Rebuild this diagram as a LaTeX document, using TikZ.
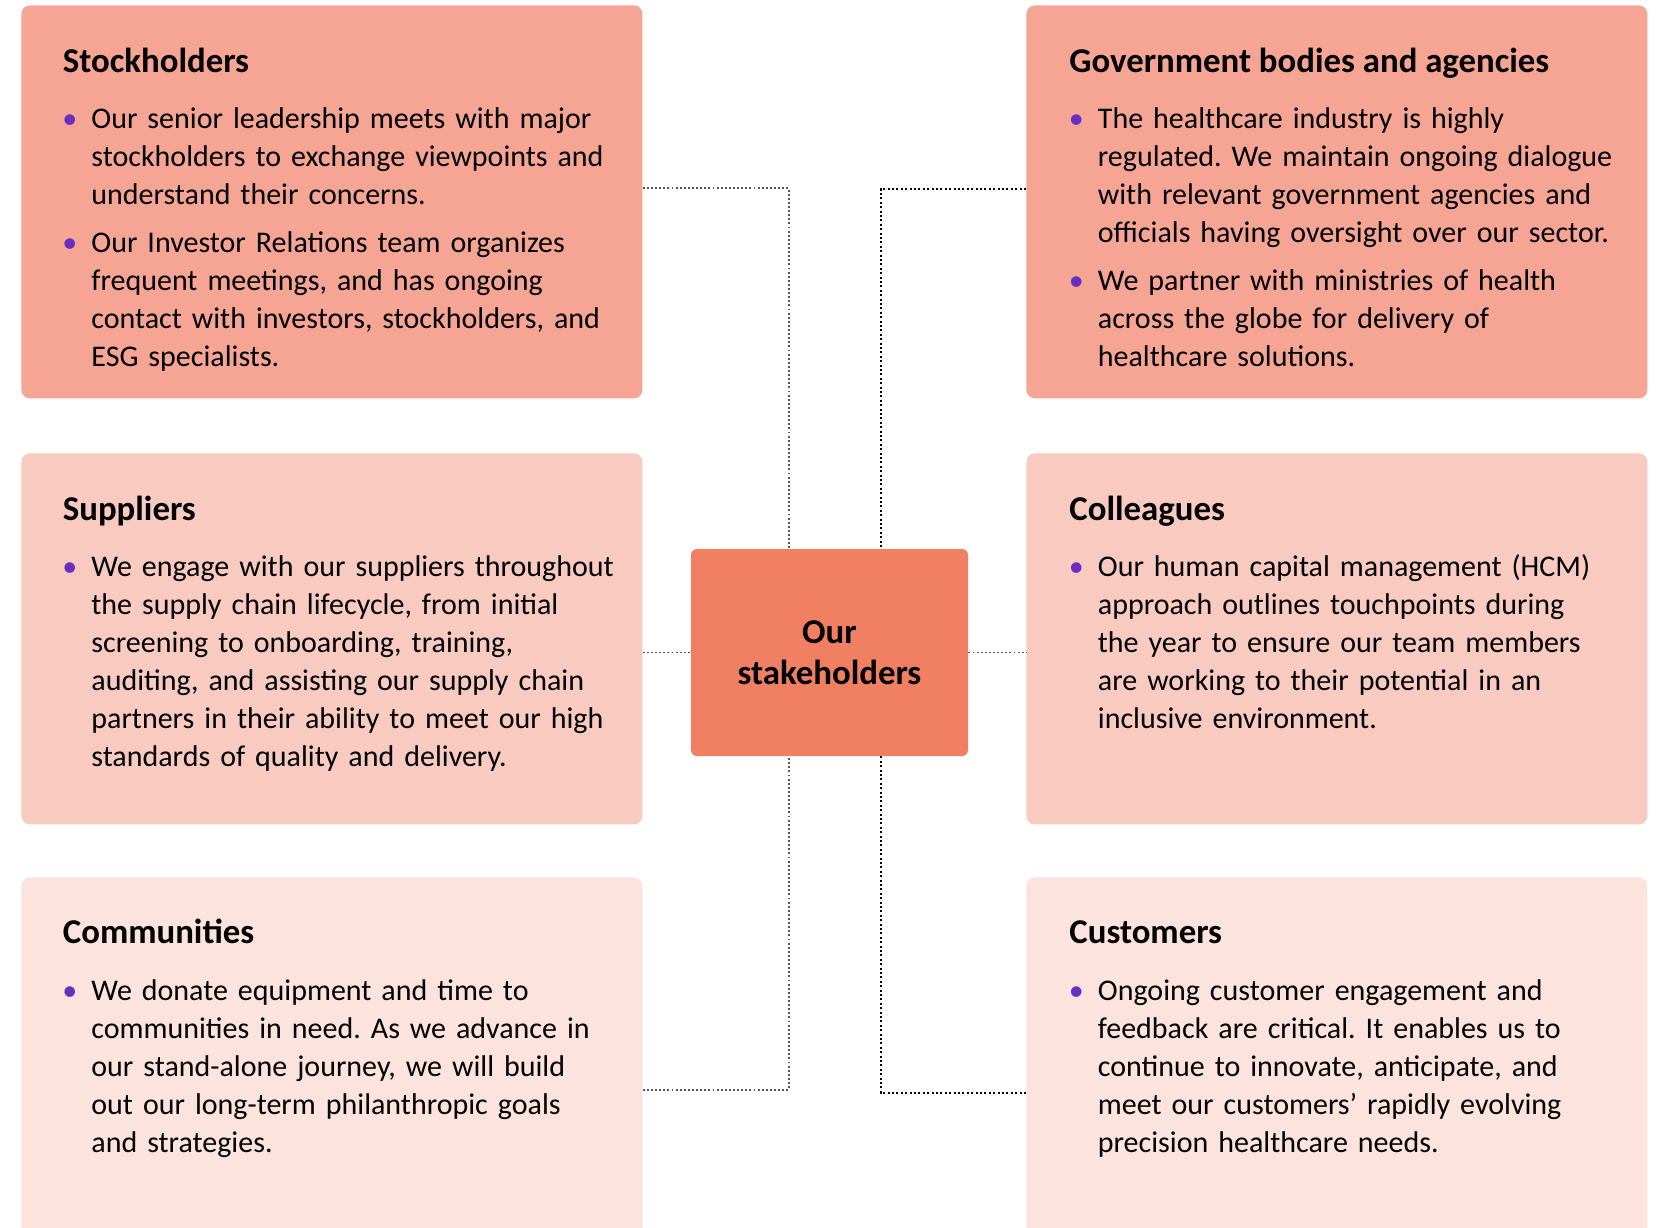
\documentclass[tikz,border=0pt]{standalone}
\usepackage{fontspec}
\setmainfont{Carlito}
\usepackage{xcolor}
\usepackage{tikz}
\usetikzlibrary{calc}
\usetikzlibrary{positioning}

\definecolor{darksalmon}{HTML}{F6A494}
\definecolor{midsalmon}{HTML}{F9CAC0}
\definecolor{palesalmon}{HTML}{FCE3DE}
\definecolor{hubsalmon}{HTML}{F17F62}
\definecolor{bulletpurple}{HTML}{6A2EC0}
\definecolor{dotgrey}{HTML}{555555}

\frenchspacing
% one bullet point, hanging indent, lines broken by hand with \newline
\newcommand{\bitem}[1]{\par\hangindent=11.5pt\hangafter=1\noindent\makebox[11.5pt][l]{\hspace{-3pt}\textcolor{bulletpurple}{\textbullet}}#1\par}
\newcommand{\itemgap}{\vspace{5pt}}

\begin{document}
\begin{tikzpicture}[x=0.5pt,y=-0.5pt,
                    box/.style={rectangle,rounded corners=4.25pt,inner sep=0pt,minimum width=310.5pt,anchor=north west},
                    upper box/.style={box,fill=darksalmon,minimum height=196.5pt},
                    middle box/.style={box,fill=midsalmon,minimum height=185.5pt},
                    lower box/.style={box,fill=palesalmon,minimum height=186.5pt},
                    hub box/.style={rectangle,rounded corners=3pt,fill=hubsalmon,minimum width=138.5pt,minimum height=103.5pt,
                                    align=center,font=\fontsize{17.4pt}{20.7pt}\selectfont\bfseries},
                    title text/.style={inner sep=0pt,anchor=base west,font=\fontsize{17.4pt}{20pt}\selectfont\bfseries},
                    body text/.style={inner sep=0pt,anchor=base west,text width=290pt,font=\fontsize{15pt}{19pt}\selectfont},
                    link/.style={draw=dotgrey,line width=0.95pt,dash pattern=on 0.95pt off 1.1pt},
                    dark link/.style={draw=black,line width=1.05pt,dash pattern=on 1.05pt off 1.15pt}]

\clip (0,0) rectangle (1661,1227);

% boxes
\node[upper box]  (stock) at (21,5) {};
\node[upper box]  (gov)   at (1026,5) {};
\node[middle box] (supp)  at (21,453) {};
\node[middle box] (coll)  at (1026,453) {};
\node[lower box]  (comm)  at (21,877) {};
\node[lower box]  (cust)  at (1026,877) {};

\node[hub box] (hub) at (829.5,652.5) {Our\\stakeholders};

% titles
\node[title text] (stocktitle) at ([shift={(20.75pt,-33.6pt)}]stock.north west) {Stockholders};
\node[title text] (govtitle)   at ([shift={(21.5pt,-33.6pt)}]gov.north west) {Government bodies and agencies};
\node[title text] (supptitle)  at ([shift={(20.75pt,-33.6pt)}]supp.north west) {Suppliers};
\node[title text] (colltitle)  at ([shift={(21.5pt,-33.6pt)}]coll.north west) {Colleagues};
\node[title text] (commtitle)  at ([shift={(20.75pt,-33.3pt)}]comm.north west) {Communities};
\node[title text] (custtitle)  at ([shift={(21.5pt,-33.3pt)}]cust.north west) {Customers};

% bullet texts
\node[body text] (stockbody) at ([shift={(2.75pt,-9.3pt)}]stocktitle.base west) {%
  \bitem{Our senior leadership meets with major\newline stockholders to exchange viewpoints and\newline understand their concerns.}\itemgap
  \bitem{Our Investor Relations team organizes\newline frequent meetings, and has ongoing\newline contact with investors, stockholders, and\newline ESG specialists.}};
\node[body text] (govbody) at ([shift={(2.75pt,-9.3pt)}]govtitle.base west) {%
  \bitem{The healthcare industry is highly\newline regulated. We maintain ongoing dialogue\newline with relevant government agencies and\newline officials having oversight over our sector.}\itemgap
  \bitem{We partner with ministries of health\newline across the globe for delivery of\newline healthcare solutions.}};
\node[body text] (suppbody) at ([shift={(2.75pt,-9.3pt)}]supptitle.base west) {%
  \bitem{We engage with our suppliers throughout\newline the supply chain lifecycle, from initial\newline screening to onboarding, training,\newline auditing, and assisting our supply chain\newline partners in their ability to meet our high\newline standards of quality and delivery.}};
\node[body text] (collbody) at ([shift={(2.75pt,-9.3pt)}]colltitle.base west) {%
  \bitem{Our human capital management (HCM)\newline approach outlines touchpoints during\newline the year to ensure our team members\newline are working to their potential in an\newline inclusive environment.}};
\node[body text] (commbody) at ([shift={(2.75pt,-9.3pt)}]commtitle.base west) {%
  \bitem{We donate equipment and time to\newline communities in need. As we advance in\newline our stand-alone journey, we will build\newline out our long-term philanthropic goals\newline and strategies.}};
\node[body text] (custbody) at ([shift={(2.75pt,-9.3pt)}]custtitle.base west) {%
  \bitem{Ongoing customer engagement and\newline feedback are critical. It enables us to\newline continue to innovate, anticipate, and\newline meet our customers’ rapidly evolving\newline precision healthcare needs.}};

% dotted connectors
\draw[link] ([yshift=7pt]stock.east) -| ([xshift=-20.4pt]hub.north);
\draw[link] ([yshift=-12.9pt]comm.east) -| ([xshift=-20.4pt]hub.south);
\draw[link] (supp.east |- hub.west) -- (hub.west);
\draw[link] (hub.east) -- (coll.west |- hub.east);
\draw[dark link] ([yshift=6.65pt]gov.west) -| ([xshift=25.6pt]hub.north);
\draw[dark link] ([yshift=-14.4pt]cust.west) -| ([xshift=25.6pt]hub.south);

\end{tikzpicture}
\end{document}
